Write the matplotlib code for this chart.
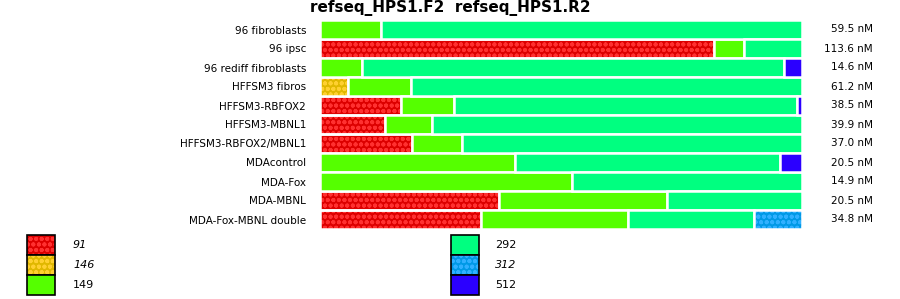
import matplotlib
matplotlib.use("Agg")
import matplotlib.pyplot as plt
from matplotlib.patches import Rectangle
import numpy as np

samples = ["96 fibroblasts", "96 ipsc", "96 rediff fibroblasts", "HFFSM3 fibros",
           "HFFSM3-RBFOX2", "HFFSM3-MBNL1", "HFFSM3-RBFOX2/MBNL1", "MDAcontrol",
           "MDA-Fox", "MDA-MBNL", "MDA-Fox-MBNL double"]
concentrations = ["59.5 nM", "113.6 nM", "14.6 nM", "61.2 nM", "38.5 nM", "39.9 nM",
                  "37.0 nM", "20.5 nM", "14.9 nM", "20.5 nM", "34.8 nM"]
isoforms = ["91", "146", "149", "292", "312", "512"]

# percent of each isoform per sample
p91  = [0.0, 81.7, 0.0, 0.0, 16.9, 13.5, 19.0, 0.0, 0.0, 37.1, 33.5]
p146 = [0.0, 0.0, 0.0, 5.8, 0.0, 0.0, 0.0, 0.0, 0.0, 0.0, 0.0]
p149 = [12.7, 6.25, 8.75, 13.1, 10.8, 9.8, 10.4, 40.4, 52.3, 34.8, 30.4]
p292 = [87.3, 12.05, 87.5, 81.1, 71.3, 76.7, 70.6, 55.0, 47.7, 28.1, 26.1]
p312 = [0.0, 0.0, 0.0, 0.0, 0.0, 0.0, 0.0, 0.0, 0.0, 0.0, 10.0]
p512 = [0.0, 0.0, 3.75, 0.0, 1.0, 0.0, 0.0, 4.6, 0.0, 0.0, 0.0]

series = [p91, p146, p149, p292, p312, p512]
face = ["#dd0000", "#e0b800", "#55ff00", "#00ff80", "#0099e6", "#2b00ff"]
hatchcol = ["#ff3030", "#ffd030", None, None, "#30b0ff", None]
italic = [True, True, False, False, True, False]
HATCH = "ooo"

plt.rcParams["hatch.linewidth"] = 1.3

fig = plt.figure(figsize=(9, 2.99), dpi=100)
ax = fig.add_axes([320 / 900, 1 - 229 / 299, 482 / 900, 209 / 299])

y = np.arange(len(samples))
left = np.zeros(len(samples))
for vals, fc, hc in zip(series, face, hatchcol):
    vals = np.array(vals)
    mask = vals > 0
    if hc is not None:
        ax.barh(y[mask], vals[mask], left=left[mask], height=1.0, color=fc,
                edgecolor=hc, linewidth=0, hatch=HATCH)
        ax.barh(y[mask], vals[mask], left=left[mask], height=1.0, facecolor="none",
                edgecolor="white", linewidth=1.8)
    else:
        ax.barh(y[mask], vals[mask], left=left[mask], height=1.0, color=fc,
                edgecolor="white", linewidth=1.8)
    left += vals

ax.set_xlim(0, 100)
ax.set_ylim(len(samples) - 0.5, -0.5)
ax.set_yticks(y)
ax.set_yticklabels(samples, fontsize=7.5)
ax.tick_params(axis="y", length=0, pad=10)
ax.set_xticks([])
for s in ax.spines.values():
    s.set_visible(False)

for yi, c in zip(y, concentrations):
    ax.text(1 + 71 / 482, yi, c, transform=ax.get_yaxis_transform(),
            ha="right", va="center", fontsize=7.5)

fig.text(0.5, 1 - 8 / 299, "refseq_HPS1.F2  refseq_HPS1.R2", ha="center", va="center",
         fontsize=11, fontweight="bold")

# legend
lax = fig.add_axes([0, 0, 1, 1], zorder=-1)
lax.set_xlim(0, 900)
lax.set_ylim(299, 0)
lax.axis("off")
cols = [(27, 73), (451, 495)]
for i, (lab, fc, hc, it) in enumerate(zip(isoforms, face, hatchcol, italic)):
    col = i // 3
    row = i % 3
    bx, tx = cols[col]
    by = 235 + row * 20
    if hc is not None:
        lax.add_patch(Rectangle((bx, by), 28, 20, facecolor=fc, edgecolor=hc,
                                linewidth=0, hatch=HATCH))
        lax.add_patch(Rectangle((bx, by), 28, 20, facecolor="none", edgecolor="black",
                                linewidth=1.2))
    else:
        lax.add_patch(Rectangle((bx, by), 28, 20, facecolor=fc, edgecolor="black",
                                linewidth=1.2))
    lax.text(tx, by + 10, lab, ha="left", va="center", fontsize=8,
             fontstyle="italic" if it else "normal")

fig.savefig("out.png", dpi=100)
